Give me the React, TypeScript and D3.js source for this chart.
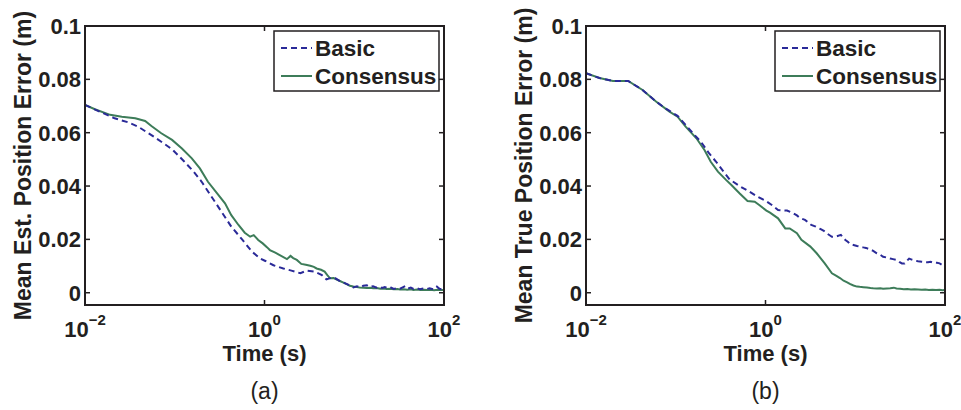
import React, { useEffect, useRef } from "react";
import * as d3 from "d3";

// [log10(time in s), mean error in m]
const basicEst: [number, number][] = [
  [-2.0, 0.0704], [-1.85, 0.0681], [-1.67, 0.0654], [-1.52, 0.0639], [-1.41, 0.0623],
  [-1.26, 0.0591], [-1.15, 0.0566], [-1.03, 0.0538], [-0.9, 0.0494], [-0.79, 0.0454],
  [-0.7, 0.0416], [-0.59, 0.036], [-0.48, 0.0304], [-0.37, 0.0248], [-0.25, 0.02],
  [-0.14, 0.0154], [-0.05, 0.0129], [0.01, 0.0119], [0.1, 0.0103], [0.21, 0.0091],
  [0.3, 0.0083], [0.4, 0.0073], [0.47, 0.0083], [0.56, 0.0079], [0.64, 0.0066],
  [0.69, 0.005], [0.74, 0.0056], [0.79, 0.0054], [0.84, 0.0044], [0.88, 0.0038],
  [0.92, 0.0032], [0.96, 0.0026], [0.99, 0.002], [1.03, 0.0024], [1.07, 0.0021],
  [1.1, 0.0026], [1.14, 0.0028], [1.17, 0.0022], [1.21, 0.0024], [1.25, 0.0019],
  [1.28, 0.0023], [1.31, 0.0018], [1.34, 0.0021], [1.38, 0.0016], [1.41, 0.0019],
  [1.44, 0.0014], [1.48, 0.0018], [1.51, 0.0015], [1.54, 0.002], [1.57, 0.0025],
  [1.6, 0.0016], [1.63, 0.0019], [1.66, 0.0014], [1.7, 0.0017], [1.73, 0.0013],
  [1.77, 0.0016], [1.81, 0.0014], [1.84, 0.0017], [1.88, 0.0013], [1.92, 0.0023],
  [1.95, 0.0015], [1.98, 0.0012], [2.0, 0.0014],
];

const consensusEst: [number, number][] = [
  [-2.0, 0.0704], [-1.89, 0.0688], [-1.72, 0.0667], [-1.59, 0.066], [-1.44, 0.0654],
  [-1.33, 0.0644], [-1.26, 0.0625], [-1.15, 0.0598], [-1.03, 0.0573], [-0.92, 0.0541],
  [-0.81, 0.0504], [-0.72, 0.0466], [-0.63, 0.0416], [-0.53, 0.0373], [-0.44, 0.0335],
  [-0.37, 0.0291], [-0.29, 0.0254], [-0.22, 0.0225], [-0.16, 0.021], [-0.12, 0.0216],
  [-0.07, 0.0198], [-0.02, 0.0185], [0.03, 0.017], [0.06, 0.016], [0.12, 0.015],
  [0.17, 0.0141], [0.25, 0.0126], [0.29, 0.0138], [0.32, 0.013], [0.36, 0.0123],
  [0.41, 0.0108], [0.46, 0.0105], [0.51, 0.0101], [0.55, 0.0097], [0.58, 0.0091],
  [0.63, 0.0086], [0.67, 0.0079], [0.7, 0.0066], [0.73, 0.0054], [0.77, 0.0055],
  [0.8, 0.005], [0.84, 0.0044], [0.88, 0.0038], [0.92, 0.0031], [0.95, 0.0026],
  [0.99, 0.0023], [1.03, 0.0021], [1.06, 0.002], [1.1, 0.0019], [1.14, 0.0018],
  [1.18, 0.0019], [1.21, 0.0017], [1.25, 0.0018], [1.29, 0.0015], [1.33, 0.0016],
  [1.36, 0.0014], [1.4, 0.0015], [1.44, 0.0013], [1.48, 0.0014], [1.51, 0.0012],
  [1.55, 0.0013], [1.59, 0.0011], [1.63, 0.0013], [1.66, 0.001], [1.7, 0.0012],
  [1.74, 0.001], [1.78, 0.0011], [1.81, 0.001], [1.85, 0.0011], [1.89, 0.0009],
  [1.93, 0.0011], [1.96, 0.001], [2.0, 0.001],
];

const basicTrue: [number, number][] = [
  [-2.0, 0.0823], [-1.85, 0.0805], [-1.7, 0.0794], [-1.53, 0.0794], [-1.37, 0.076],
  [-1.22, 0.0717], [-1.11, 0.069], [-0.98, 0.0663], [-0.89, 0.0629], [-0.8, 0.0595],
  [-0.72, 0.0566], [-0.63, 0.0523], [-0.55, 0.0491], [-0.48, 0.046], [-0.4, 0.0425],
  [-0.29, 0.04], [-0.18, 0.0379], [-0.09, 0.036], [0.0, 0.0345], [0.07, 0.0329],
  [0.14, 0.031], [0.24, 0.0308], [0.31, 0.0298], [0.35, 0.029], [0.38, 0.0281],
  [0.44, 0.0273], [0.48, 0.0262], [0.51, 0.0254], [0.56, 0.0248], [0.61, 0.0239],
  [0.65, 0.0232], [0.68, 0.0223], [0.74, 0.021], [0.79, 0.0211], [0.84, 0.0217],
  [0.86, 0.0208], [0.89, 0.0198], [0.92, 0.019], [0.94, 0.0183], [0.98, 0.0179],
  [1.02, 0.0175], [1.05, 0.0173], [1.09, 0.017], [1.12, 0.0168], [1.16, 0.0163],
  [1.2, 0.0157], [1.24, 0.0148], [1.28, 0.0142], [1.31, 0.0135], [1.35, 0.0132],
  [1.39, 0.0128], [1.42, 0.0126], [1.46, 0.0123], [1.49, 0.0116], [1.52, 0.011],
  [1.55, 0.011], [1.58, 0.0121], [1.6, 0.0128], [1.63, 0.0124], [1.67, 0.012],
  [1.7, 0.0118], [1.74, 0.0116], [1.77, 0.0115], [1.81, 0.0114], [1.84, 0.0116],
  [1.87, 0.0113], [1.91, 0.0112], [1.94, 0.011], [1.97, 0.0104], [2.0, 0.0098],
];

const consensusTrue: [number, number][] = [
  [-2.0, 0.0823], [-1.85, 0.0805], [-1.7, 0.0794], [-1.53, 0.0794], [-1.37, 0.076],
  [-1.22, 0.0717], [-1.07, 0.0679], [-0.98, 0.066], [-0.89, 0.0623], [-0.77, 0.0579],
  [-0.68, 0.0535], [-0.61, 0.0491], [-0.53, 0.0454], [-0.44, 0.0423], [-0.38, 0.0404],
  [-0.29, 0.0373], [-0.2, 0.0344], [-0.12, 0.0341], [-0.07, 0.0329], [0.01, 0.0308],
  [0.05, 0.03], [0.14, 0.0279], [0.22, 0.0241], [0.27, 0.0241], [0.35, 0.0223],
  [0.4, 0.0198], [0.5, 0.0173], [0.57, 0.0148], [0.66, 0.011], [0.74, 0.0073],
  [0.79, 0.0063], [0.83, 0.0055], [0.87, 0.0045], [0.91, 0.0039], [0.94, 0.0033],
  [0.98, 0.0027], [1.02, 0.0023], [1.05, 0.0022], [1.09, 0.0021], [1.13, 0.002],
  [1.17, 0.0018], [1.2, 0.0017], [1.24, 0.0016], [1.28, 0.0017], [1.31, 0.0015],
  [1.35, 0.0016], [1.39, 0.0017], [1.43, 0.0019], [1.46, 0.0016], [1.5, 0.0015],
  [1.54, 0.0013], [1.58, 0.0014], [1.62, 0.0012], [1.66, 0.0013], [1.7, 0.0012],
  [1.74, 0.0011], [1.78, 0.0012], [1.82, 0.001], [1.86, 0.0011], [1.9, 0.001],
  [1.94, 0.0011], [1.97, 0.0009], [2.0, 0.001],
];

const yTicks = [0, 0.02, 0.04, 0.06, 0.08, 0.1];
const yTickLabels = ["0", "0.02", "0.04", "0.06", "0.08", "0.1"];
const xTicks = [0.01, 1, 100];
const xTickExponents = ["\u22122", "0", "2"];
const seriesNames = ["Basic", "Consensus"];
const yLabels = ["Mean Est. Position Error (m)", "Mean True Position Error (m)"];
const captions = ["(a)", "(b)"];

const W = 961, H = 410;
const FONT = "'Liberation Sans', Arial, Helvetica, sans-serif";
const BLUE = "#2a2a98";
const GREEN = "#3d7c59";
const INK = "#231f20";

const App = () => {
  const ref = useRef<SVGSVGElement>(null);

  useEffect(() => {
    const svg = d3.select(ref.current);
    svg.selectAll("*").remove();

    const panels = [
      { left: 85, basic: basicEst, consensus: consensusEst },
      { left: 586, basic: basicTrue, consensus: consensusTrue },
    ];
    const top = 26, bottom = 305, width = 359;

    panels.forEach((p, i) => {
      const x = d3.scaleLog().domain([0.01, 100]).range([p.left, p.left + width]);
      const y = d3.scaleLinear().domain([-0.0046, 0.1]).range([bottom, top]);
      const g = svg.append("g");

      const clipId = `clip${i}`;
      g.append("clipPath").attr("id", clipId)
        .append("rect")
        .attr("x", p.left).attr("y", top)
        .attr("width", width).attr("height", bottom - top);

      const line = d3.line<[number, number]>()
        .x((d) => x(Math.pow(10, d[0])))
        .y((d) => y(d[1]));

      g.append("path").datum(p.consensus)
        .attr("clip-path", `url(#${clipId})`)
        .attr("fill", "none").attr("stroke", GREEN).attr("stroke-width", 2)
        .attr("d", line);
      g.append("path").datum(p.basic)
        .attr("clip-path", `url(#${clipId})`)
        .attr("fill", "none").attr("stroke", BLUE).attr("stroke-width", 2)
        .attr("stroke-dasharray", "6,4")
        .attr("d", line);

      // box
      g.append("rect")
        .attr("x", p.left).attr("y", top)
        .attr("width", width).attr("height", bottom - top)
        .attr("fill", "none").attr("stroke", INK).attr("stroke-width", 2);

      // y ticks (inward, both sides)
      yTicks.forEach((v, k) => {
        const yy = y(v);
        g.append("line").attr("x1", p.left).attr("x2", p.left + 5)
          .attr("y1", yy).attr("y2", yy).attr("stroke", INK).attr("stroke-width", 1.5);
        g.append("line").attr("x1", p.left + width).attr("x2", p.left + width - 5)
          .attr("y1", yy).attr("y2", yy).attr("stroke", INK).attr("stroke-width", 1.5);
        g.append("text")
          .attr("x", p.left - 4).attr("y", yy).attr("dy", "0.36em")
          .attr("text-anchor", "end")
          .attr("font-family", FONT).attr("font-weight", "bold").attr("font-size", 22)
          .attr("fill", INK)
          .text(yTickLabels[k]);
      });

      // x ticks
      xTicks.forEach((v, k) => {
        const xx = x(v);
        g.append("line").attr("x1", xx).attr("x2", xx)
          .attr("y1", bottom).attr("y2", bottom - 5).attr("stroke", INK).attr("stroke-width", 1.5);
        g.append("line").attr("x1", xx).attr("x2", xx)
          .attr("y1", top).attr("y2", top + 5).attr("stroke", INK).attr("stroke-width", 1.5);
        const t = g.append("text")
          .attr("x", xx).attr("y", 337)
          .attr("text-anchor", "middle")
          .attr("font-family", FONT).attr("font-weight", "bold").attr("font-size", 22)
          .attr("fill", INK);
        t.append("tspan").text("10");
        t.append("tspan").attr("dy", -12).attr("font-size", 15).text(xTickExponents[k]);
      });

      // axis labels
      g.append("text")
        .attr("transform", `translate(${p.left - 54},${(top + bottom) / 2}) rotate(-90)`)
        .attr("text-anchor", "middle")
        .attr("font-family", FONT).attr("font-weight", "bold").attr("font-size", 23)
        .attr("fill", INK)
        .text(yLabels[i]);
      g.append("text")
        .attr("x", p.left + width / 2).attr("y", 361)
        .attr("text-anchor", "middle")
        .attr("font-family", FONT).attr("font-weight", "bold").attr("font-size", 22)
        .attr("fill", INK)
        .text("Time (s)");
      g.append("text")
        .attr("x", p.left + width / 2).attr("y", 399)
        .attr("text-anchor", "middle")
        .attr("font-family", FONT).attr("font-size", 23)
        .attr("fill", INK)
        .text(captions[i]);

      // legend
      const lx = p.left + width - 170, ly = top + 5;
      g.append("rect")
        .attr("x", lx).attr("y", ly).attr("width", 165).attr("height", 60)
        .attr("fill", "white").attr("stroke", INK).attr("stroke-width", 1.5);
      seriesNames.forEach((name, k) => {
        const yy = ly + 17 + k * 28;
        g.append("line")
          .attr("x1", lx + 7).attr("x2", lx + 38)
          .attr("y1", yy).attr("y2", yy)
          .attr("stroke", k === 0 ? BLUE : GREEN).attr("stroke-width", 2)
          .attr("stroke-dasharray", k === 0 ? "6,4" : null);
        g.append("text")
          .attr("x", lx + 41).attr("y", yy).attr("dy", "0.36em")
          .attr("font-family", FONT).attr("font-weight", "bold").attr("font-size", 22.5)
          .attr("fill", INK)
          .text(name);
      });
    });
  }, []);

  return (
    <div style={{ position: "absolute", left: 0, top: 0 }}>
      <svg ref={ref} width={W} height={H} style={{ display: "block", background: "white" }} />
    </div>
  );
};

export default App;
